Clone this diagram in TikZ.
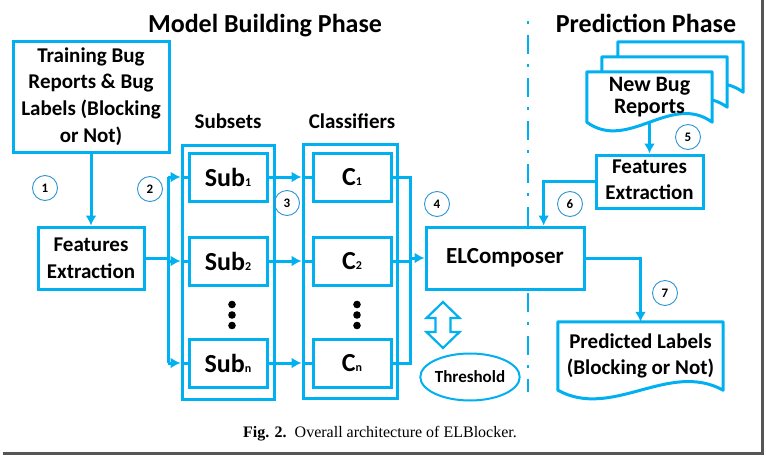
\documentclass[tikz,border=0pt]{standalone}
\usepackage{fontspec}
\setsansfont{Carlito}
\newfontfamily\elcapfont{Liberation Serif}
\usepackage{xcolor}
\definecolor{elblue}{HTML}{00B0F0}
\definecolor{elring}{HTML}{2E95D3}
\definecolor{elshade}{HTML}{555555}
\usetikzlibrary{arrows.meta,positioning,shapes.geometric,backgrounds,calc}
\newcommand\elfont{\sffamily\bfseries\fontsize{21}{26.7}\selectfont}
\newcommand\elbig{\sffamily\bfseries\fontsize{26}{30}\selectfont}
\newcommand\elidx[1]{{\fontsize{12}{12}\selectfont #1}}
\newcommand\eldocpath[1]{(#1.north west) -- (#1.north east) -- (#1.south east)
  .. controls ($(#1.south east)!0.33!(#1.south west)+(0,-30)$) and ($(#1.south east)!0.67!(#1.south west)+(0,30)$) .. (#1.south west) -- cycle}
\tikzset{
  elbox/.style={draw=elblue,line width=3pt,fill=white,inner sep=0pt,align=center,font=\elfont},
  elsubbox/.style={elbox,minimum width=78pt,minimum height=48pt,font=\elbig},
  elgroup/.style={draw=elblue,line width=3pt,inner sep=0pt,minimum height=254pt},
  eldocbox/.style={inner sep=0pt,align=center,minimum width=125pt,minimum height=50pt,font=\sffamily\bfseries\fontsize{22}{22}\selectfont},
  eldoc/.style={draw=elblue,line width=3pt,fill=white,line join=round},
  elflow/.style={draw=elblue,line width=3pt,-{Latex[length=10pt,width=11pt]}},
  elline/.style={draw=elblue,line width=3pt},
  elstep/.style={circle,draw=elring,line width=0.9pt,minimum size=25pt,inner sep=0pt,font=\sffamily\bfseries\fontsize{13}{13}\selectfont},
  elhead/.style={font=\sffamily\bfseries\fontsize{26}{26}\selectfont,anchor=base,inner sep=0pt},
  ellabel/.style={font=\sffamily\bfseries\fontsize{21}{21}\selectfont,anchor=base,inner sep=0pt},
  eldivide/.style={draw=elblue,line width=2pt,dash pattern=on 19pt off 10pt on 3pt off 11pt,dash phase=29pt},
}
\begin{document}
\begin{tikzpicture}[x=1pt,y=-1pt]
\useasboundingbox (0,0) rectangle (766,458);
% phase titles and divider
\node[elhead] (mbp) at (265,32) {Model Building Phase};
\node[elhead] (pp) at (646,32) {Prediction Phase};
\draw[eldivide] (528,21) -- (528,392);
% model building
\node[elbox,minimum width=156pt,minimum height=111pt] (train) at (91,96.5) {Training Bug\\Reports \& Bug\\Labels (Blocking\\or Not)};
\node[elbox,minimum width=106pt,minimum height=62pt] (fe) at (91,258) {Features\\Extraction};
\node[elgroup,minimum width=92pt] (subsets) at (228,272) {};
\node[elgroup,minimum width=94pt] (classif) at (350,271.5) {};
\node[ellabel] (sublab) at (228,128) {Subsets};
\node[ellabel] (clslab) at (352,128) {Classifiers};
\node[elsubbox] (sub1) at (228,177) {Sub\elidx{1}};
\node[elsubbox,below=33pt of sub1] (sub2) {Sub\elidx{2}};
\node[elsubbox,below=51pt of sub2] (subn) {Sub\elidx{n}};
\node[elsubbox,right=43pt of sub1] (c1) {C\elidx{1}};
\node[elsubbox,right=43pt of sub2] (c2) {C\elidx{2}};
\node[elsubbox,right=43pt of subn] (cn) {C\elidx{n}};
\foreach \k in {0,1,2}{
  \fill ($(sub2.south)+(4,18+10.5*\k)$) circle (3.8pt);
  \fill ($(c2.south)+(5,18+10.5*\k)$) circle (3.8pt);
}
\node[elbox,minimum width=158pt,minimum height=62pt,font=\sffamily\bfseries\fontsize{23}{23}\selectfont] (elc) at (505,258) {ELComposer};
\node[ellipse,draw=elblue,line width=2pt,minimum width=96pt,minimum height=47pt,inner sep=0pt,font=\sffamily\bfseries\fontsize{17}{17}\selectfont] (thr) at (470,377) {Threshold};
\draw[draw=elblue,line width=2.2pt,line join=miter,shift={(443,325)}] (0,-23) -- (16.5,-7) -- (7.5,-7) -- (7.5,7) -- (16.5,7) -- (0,23) -- (-16.5,7) -- (-7.5,7) -- (-7.5,-7) -- (-16.5,-7) -- cycle;
% connectors
\coordinate (fesplit) at (168,258);
\coordinate (cjoin) at (410,258);
\draw[elflow] (train) -- (fe);
\draw[elline] (fe.east) -- (fesplit);
\draw[elline] (fesplit |- sub1.west) -- (fesplit |- subn.west);
\foreach \i in {1,2,n}{
  \draw[elflow] (fesplit |- sub\i.west) -- (subsets.west |- sub\i.west);
  \draw[elline] (subsets.west |- sub\i.west) -- (sub\i.west);
  \draw[elflow] (sub\i.east) -- (classif.west |- sub\i.east);
  \draw[elline] (classif.west |- c\i.west) -- (c\i.west);
  \draw[elline] (c\i.east) -| (cjoin);
}
\draw[elflow] (cjoin) -- (elc.west);
% prediction
\node[eldocbox] (newdoc) at (649.5,97) {New Bug\\Reports};
\node[eldocbox] (newdoc2) at (664.5,82) {};
\node[eldocbox] (newdoc3) at (680.5,67) {};
\node[eldocbox,minimum width=165pt,minimum height=68pt,font=\elfont] (pred) at (640.5,356) {Predicted Labels\\(Blocking or Not)};
\begin{scope}[on background layer]
\draw[eldoc] \eldocpath{newdoc3};
\draw[eldoc] \eldocpath{newdoc2};
\draw[eldoc] \eldocpath{newdoc};
\draw[eldoc] \eldocpath{pred};
\end{scope}
\node[elbox,minimum width=107pt,minimum height=53pt] (fe2) at (649.5,181.5) {\raisebox{-4pt}{\begin{tabular}{@{}c@{}}Features\\[-0.8pt]Extraction\end{tabular}}};
\draw[elflow] (newdoc.south) -- (fe2.north);
\draw[elflow] (fe2.west) -| ($(elc.north)!0.48!(elc.north east)$);
\draw[elflow] (elc.east) -| (pred.north);
% step numbers
\node[elstep] (s1) at (45,188) {1};
\node[elstep] (s2) at (150,189) {2};
\node[elstep] (s3) at (287,203) {3};
\node[elstep] (s4) at (437,204) {4};
\node[elstep] (s5) at (688,137) {5};
\node[elstep] (s6) at (570,204) {6};
\node[elstep] (s7) at (665,293) {7};
% caption and frame shadow
\node[anchor=base,inner sep=0pt,font=\elcapfont\fontsize{16}{16}\selectfont] (cap) at (380,437) {\textbf{Fig. 2.}\ \ Overall architecture of ELBlocker.};
\draw[elshade,line width=3pt] (3,453) -- (762.5,453) -- (762.5,0);
\end{tikzpicture}
\end{document}
